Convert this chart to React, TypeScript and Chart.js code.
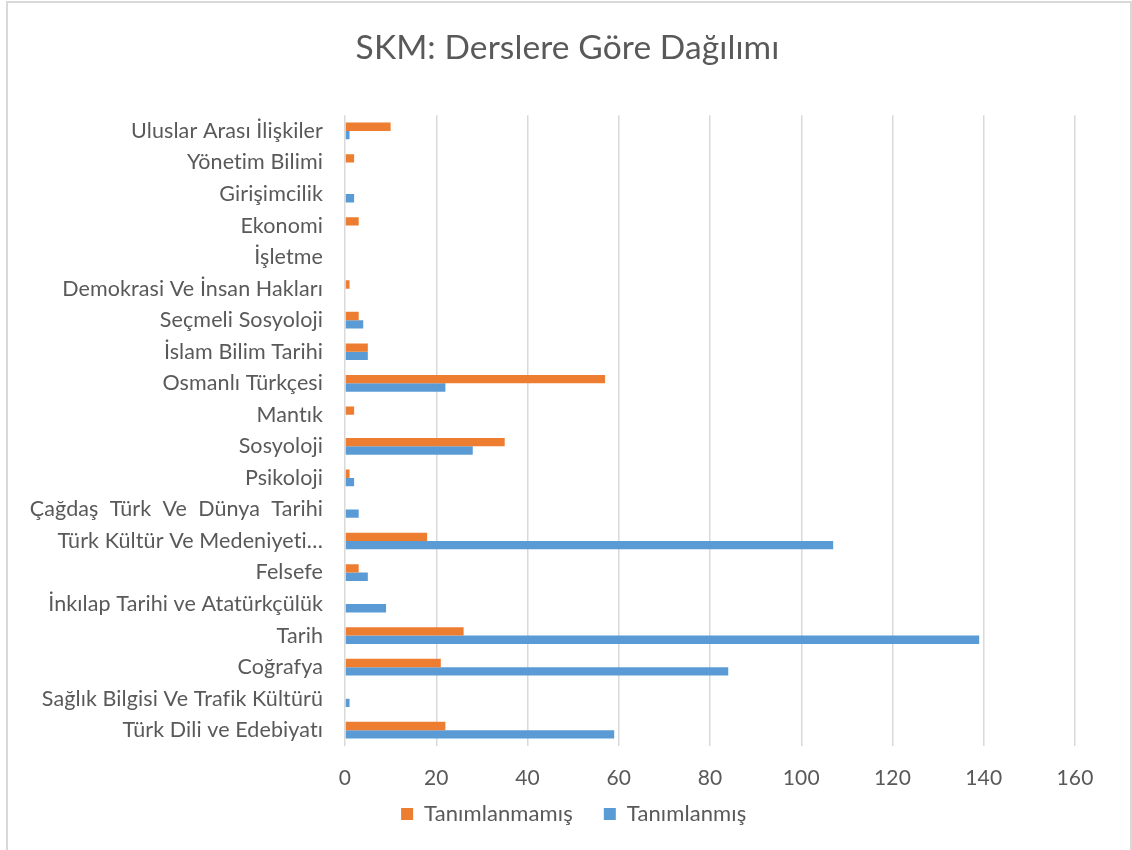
import React, { useEffect, useRef } from "react";
import { Chart, registerables } from "chart.js";

Chart.register(...registerables);

const categories = [
  "Uluslar Arası İlişkiler",
  "Yönetim Bilimi",
  "Girişimcilik",
  "Ekonomi",
  "İşletme",
  "Demokrasi Ve İnsan Hakları",
  "Seçmeli Sosyoloji",
  "İslam Bilim Tarihi",
  "Osmanlı Türkçesi",
  "Mantık",
  "Sosyoloji",
  "Psikoloji",
  "Çağdaş  Türk  Ve  Dünya  Tarihi",
  "Türk Kültür Ve Medeniyeti…",
  "Felsefe",
  "İnkılap Tarihi ve Atatürkçülük",
  "Tarih",
  "Coğrafya",
  "Sağlık Bilgisi Ve Trafik Kültürü",
  "Türk Dili ve Edebiyatı",
];

const tanimlanmamis = [10, 2, 0, 3, 0, 1, 3, 5, 57, 2, 35, 1, 0, 18, 3, 0, 26, 21, 0, 22];
const tanimlanmis = [1, 0, 2, 0, 0, 0, 4, 5, 22, 0, 28, 2, 3, 107, 5, 9, 139, 84, 1, 59];

const xTicks = [0, 20, 40, 60, 80, 100, 120, 140, 160];

const FONT = "Lato, 'Open Sans', sans-serif";
const TEXT = "#595959";

const noLigatures = {
  id: "noLigatures",
  beforeDraw(chart: any) {
    chart.ctx.letterSpacing = "0.1px";
  },
};

const shiftBlocks = {
  id: "shiftBlocks",
  afterLayout(chart: any) {
    const t = chart.titleBlock;
    if (t) {
      t.left += 30;
      t.right += 30;
    }
    const l = chart.legend;
    if (l) {
      l.left += 35;
      l.right += 35;
      l.top -= 20;
      l.bottom -= 20;
    }
  },
};

export default function App() {
  const ref = useRef<HTMLCanvasElement | null>(null);

  useEffect(() => {
    if (!ref.current) return;
    const chart = new Chart(ref.current, {
      type: "bar",
      data: {
        labels: categories,
        datasets: [
          {
            label: "Tanımlanmamış",
            data: tanimlanmamis,
            backgroundColor: "#ED7D31",
            categoryPercentage: 0.53,
            barPercentage: 1,
          },
          {
            label: "Tanımlanmış",
            data: tanimlanmis,
            backgroundColor: "#5B9BD5",
            categoryPercentage: 0.53,
            barPercentage: 1,
          },
        ],
      },
      plugins: [noLigatures, shiftBlocks],
      options: {
        indexAxis: "y",
        animation: false,
        responsive: false,
        maintainAspectRatio: false,
        layout: { padding: { left: 0, right: 57, top: 0, bottom: -5 } },
        scales: {
          x: {
            min: 0,
            max: 160,
            afterBuildTicks: (scale: any) => {
              scale.ticks = xTicks.map((v) => ({ value: v }));
            },
            afterFit: (scale: any) => {
              scale.height = 46;
            },
            grid: { color: "#d9d9d9", lineWidth: 1.5, drawTicks: false },
            border: { display: false },
            ticks: { color: TEXT, font: { family: FONT, size: 21 }, padding: 20 },
          },
          y: {
            afterFit: (scale: any) => {
              scale.width = 345;
            },
            grid: { display: false, drawTicks: false },
            border: { display: false },
            ticks: { color: TEXT, font: { family: FONT, size: 21.5 }, padding: 22, autoSkip: false },
          },
        },
        plugins: {
          title: {
            display: true,
            text: "SKM: Derslere Göre Dağılımı",
            color: TEXT,
            font: { family: FONT, size: 33.5, weight: "normal" },
            padding: { top: 28, bottom: 47 },
          },
          legend: {
            position: "bottom",
            labels: {
              color: TEXT,
              font: { family: FONT, size: 22 },
              boxWidth: 12,
              boxHeight: 12,
              padding: 31,
            },
          },
          tooltip: { enabled: false },
        },
      },
    });
    return () => chart.destroy();
  }, []);

  return (
    <div
      style={{
        position: "fixed",
        left: 0,
        top: 0,
        width: 1132,
        height: 850,
        background: "#fff",
        overflow: "hidden",
      }}
    >
      <div
        style={{
          position: "absolute",
          left: 6,
          top: 1,
          width: 1126,
          height: 870,
          border: "2px solid #d9d9d9",
          boxSizing: "border-box",
        }}
      />
      <canvas ref={ref} width={1132} height={850} style={{ position: "absolute", left: 0, top: 0 }} />
    </div>
  );
}
